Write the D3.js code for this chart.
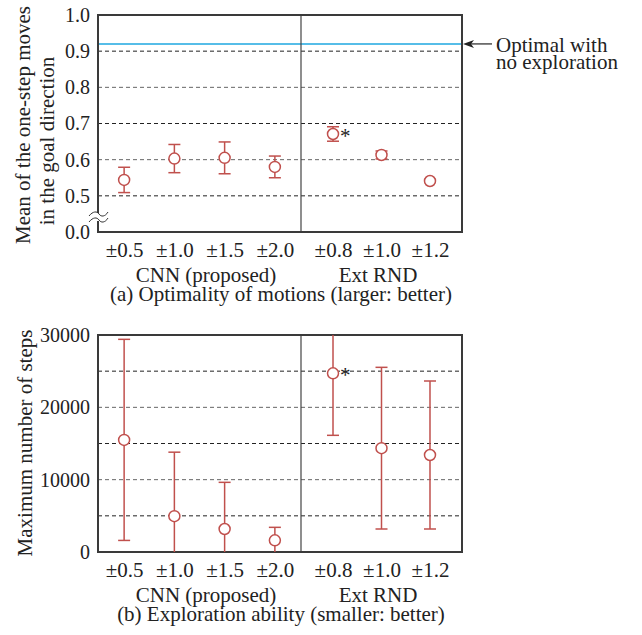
<!DOCTYPE html>
<html>
<head>
<meta charset="utf-8">
<script src="https://cdn.jsdelivr.net/npm/d3@7"></script>
<style>
  body { margin: 0; background: #fff; }
</style>
</head>
<body>
<div id="chart"></div>
<script>
// categories
const cnnLabels = ["±0.5", "±1.0", "±1.5", "±2.0"];
const rndLabels = ["±0.8", "±1.0", "±1.2"];

// (a) optimality of motions
const optCnnMean = [0.544, 0.603, 0.605, 0.580];
const optCnnErr  = [0.035, 0.039, 0.044, 0.030];
const optRndMean = [0.671, 0.613, 0.541];
const optRndErr  = [0.020, 0.011, 0.004];
const optTicks = [0.0, 0.5, 0.6, 0.7, 0.8, 0.9, 1.0];
const optGrid = [0.5, 0.6, 0.7, 0.8, 0.9];
const optimalNoExpl = 0.92;

// (b) exploration ability
const stepCnnMean = [15500, 4950, 3180, 1610];
const stepCnnErr  = [13900, 8850, 6450, 1800];
const stepRndMean = [24700, 14355, 13410];
const stepRndErr  = [8570, 11175, 10230];
const stepTicks = [0, 10000, 20000, 30000];
const stepGrid = [5000, 10000, 15000, 20000, 25000];

const width = 642, height = 635;
const left = 98, right = 462, split = 301;
const red = "#c0504d";
const serif = "'Liberation Serif', 'Times New Roman', Tinos, 'DejaVu Serif', serif";

const svg = d3.select("#chart").append("svg")
  .attr("width", width).attr("height", height)
  .attr("font-family", serif);

const xCnn = d3.scalePoint().domain(cnnLabels).range([left, split]).padding(0.52);
const xRnd = d3.scalePoint().domain(rndLabels).range([split, right]).padding(0.66);

function label(g, x, y, txt, anchor) {
  return g.append("text").attr("x", x).attr("y", y)
    .attr("text-anchor", anchor || "start")
    .style("font-family", serif).style("font-size", "21px").attr("fill", "#222")
    .text(txt);
}

function panel(o) {
  const g = svg.append("g");
  const top = o.top, bottom = o.top + 217;
  const y = o.y.range([bottom, top]);
  const yPos = v => y(v);

  const clipId = "clip" + o.id;
  svg.append("clipPath").attr("id", clipId)
    .append("rect").attr("x", left).attr("y", top)
    .attr("width", right - left).attr("height", bottom - top);

  // grid
  g.selectAll(".grid").data(o.grid).enter().append("line")
    .attr("x1", left).attr("x2", right)
    .attr("y1", d => yPos(d)).attr("y2", d => yPos(d))
    .attr("stroke", (d, i) => i % 2 ? "#666" : "#222")
    .attr("stroke-width", 1)
    .attr("stroke-dasharray", "4,3");

  if (o.extra) o.extra(g, yPos);

  // divider
  g.append("line").attr("x1", split).attr("x2", split)
    .attr("y1", top).attr("y2", bottom)
    .attr("stroke", "#444").attr("stroke-width", 1.2);

  // y axis ticks
  const yAxis = d3.axisLeft(y).tickValues(o.ticks.map(o.tickMap || (d => d)))
    .tickSize(0).tickPadding(8).tickFormat((d, i) => o.fmt(o.ticks[i]));
  const ya = g.append("g").attr("transform", `translate(${left},0)`).call(yAxis);
  ya.attr("font-family", serif);
  ya.select(".domain").remove();
  ya.selectAll("text").style("font-family", serif).style("font-size", "20px").attr("fill", "#222");

  // x axis labels
  [xCnn, xRnd].forEach(x => {
    const xa = g.append("g").attr("transform", `translate(0,${bottom})`)
      .call(d3.axisBottom(x).tickSize(0).tickPadding(10));
    xa.attr("font-family", serif);
    xa.select(".domain").remove();
    xa.selectAll("text").style("font-family", serif).style("font-size", "21px").attr("fill", "#222");
  });

  // frame
  g.append("rect").attr("x", left).attr("y", top)
    .attr("width", right - left).attr("height", bottom - top)
    .attr("fill", "none").attr("stroke", "#3a3a3a").attr("stroke-width", 2);

  // error bars + points
  const series = [
    { x: xCnn, labels: cnnLabels, mean: o.cnnMean, err: o.cnnErr },
    { x: xRnd, labels: rndLabels, mean: o.rndMean, err: o.rndErr }
  ];
  const eg = g.append("g").attr("clip-path", `url(#${clipId})`);
  series.forEach(s => {
    s.labels.forEach((lab, i) => {
      const cx = s.x(lab);
      const hi = yPos(s.mean[i] + s.err[i]), lo = yPos(s.mean[i] - s.err[i]);
      eg.append("line").attr("x1", cx).attr("x2", cx).attr("y1", hi).attr("y2", lo)
        .attr("stroke", red).attr("stroke-width", 1.5);
      [hi, lo].forEach(yy => eg.append("line")
        .attr("x1", cx - 6).attr("x2", cx + 6).attr("y1", yy).attr("y2", yy)
        .attr("stroke", red).attr("stroke-width", 1.5));
      g.append("circle").attr("cx", cx).attr("cy", yPos(s.mean[i])).attr("r", 5.5)
        .attr("fill", "#fff").attr("stroke", red).attr("stroke-width", 1.5);
    });
  });

  // asterisk next to first Ext RND point
  label(g, xRnd(rndLabels[0]) + 7, yPos(o.rndMean[0]) + 9, "*");

  // y title
  o.title.forEach(t => {
    label(g, 0, 0, t.text, "middle")
      .attr("transform", `translate(${t.x},${t.cy}) rotate(-90)`)
      .attr("dy", "0.35em");
  });

  // group labels + caption
  label(g, 206, bottom + 50, "CNN (proposed)", "middle");
  label(g, 378, bottom + 50, "Ext RND", "middle");
  label(g, 281, bottom + 69, o.caption, "middle");
  return g;
}

// (a) broken axis: 0.0 sits one step below 0.5
const yOpt = d3.scaleLinear().domain([0.4, 1.0]);
const optMap = v => (v < 0.5 ? 0.4 : v);
const ga = panel({
  id: "a", top: 15, y: yOpt, tickMap: optMap,
  ticks: optTicks, grid: optGrid, fmt: d3.format(".1f"),
  cnnMean: optCnnMean, cnnErr: optCnnErr, rndMean: optRndMean, rndErr: optRndErr,
  title: [{ x: 23, cy: 125, text: "Mean of the one-step moves" },
          { x: 47, cy: 141, text: "in the goal direction" }],
  caption: "(a) Optimality of motions (larger: better)",
  extra: (g, yPos) => {
    g.append("line").attr("x1", left).attr("x2", right)
      .attr("y1", yPos(optimalNoExpl)).attr("y2", yPos(optimalNoExpl))
      .attr("stroke", "#1ea7e1").attr("stroke-width", 1.5);
  }
});

// axis break mark
const by = 217;
ga.append("rect").attr("x", 96).attr("y", by - 4).attr("width", 5).attr("height", 8).attr("fill", "#fff");
[-3, 3].forEach(off => ga.append("path")
  .attr("d", `M89,${by + off + 2} C93,${by + off - 3} 97,${by + off - 3} 99,${by + off} S105,${by + off + 3} 108,${by + off - 2}`)
  .attr("fill", "none").attr("stroke", "#333").attr("stroke-width", 1));

// annotation arrow
const ay = yOpt(optimalNoExpl);
ga.append("line").attr("x1", 470).attr("x2", 492).attr("y1", ay).attr("y2", ay)
  .attr("stroke", "#222").attr("stroke-width", 1.2);
ga.append("path").attr("d", `M463,${ay} L474,${ay - 4} L471,${ay} L474,${ay + 4} Z`).attr("fill", "#222");
label(ga, 496, 52, "Optimal with");
label(ga, 496, 69, "no exploration");

// (b)
const ySteps = d3.scaleLinear().domain([0, 30000]);
panel({
  id: "b", top: 335, y: ySteps,
  ticks: stepTicks, grid: stepGrid, fmt: d3.format("d"),
  cnnMean: stepCnnMean, cnnErr: stepCnnErr, rndMean: stepRndMean, rndErr: stepRndErr,
  title: [{ x: 25, cy: 443, text: "Maximum number of steps" }],
  caption: "(b) Exploration ability (smaller: better)"
});
</script>
</body>
</html>
